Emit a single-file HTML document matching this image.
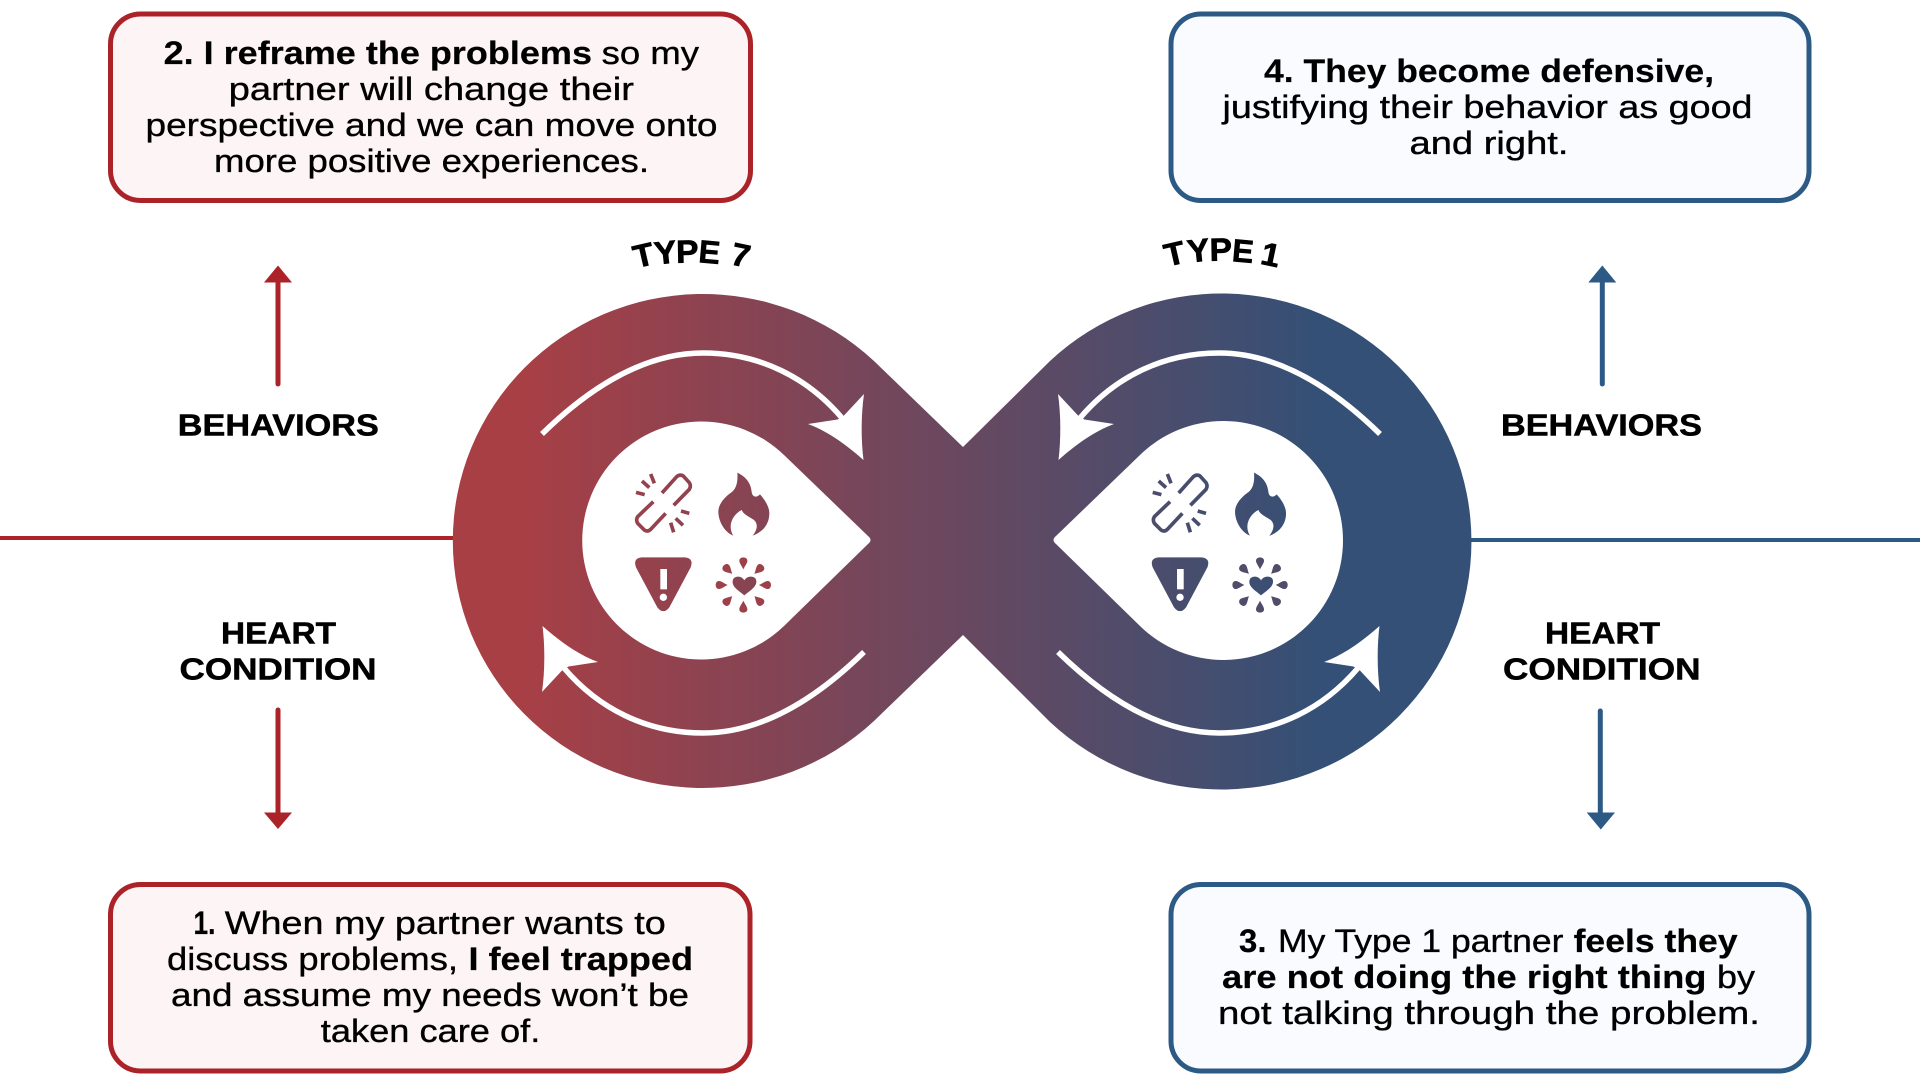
<!DOCTYPE html>
<html lang="en">
<head>
<meta charset="utf-8">
<title>Type 7 and Type 1 loop</title>
<style>
html,body{margin:0;padding:0;background:#fff;width:1920px;height:1080px;overflow:hidden}
svg{display:block}
text{font-family:"Liberation Sans",Arial,sans-serif;font-size:32.5px;fill:#000;stroke:#000;stroke-width:.35px}
.b{font-weight:700;stroke-width:.2px}
.h{font-weight:700;font-size:31px;stroke-width:.5px}
.t{font-weight:700;font-size:32px;stroke-width:.7px}
</style>
</head>
<body>
<svg xmlns="http://www.w3.org/2000/svg" width="1920" height="1080" viewBox="0 0 1920 1080">
<defs>
<linearGradient id="g" gradientUnits="userSpaceOnUse" x1="520" y1="0" x2="1320" y2="0">
<stop offset="0" stop-color="#a83f45"/><stop offset="1" stop-color="#345076"/>
</linearGradient>
<linearGradient id="gl" gradientUnits="userSpaceOnUse" x1="-240" y1="0" x2="2160" y2="0">
<stop offset="0" stop-color="#a83f45"/><stop offset="1" stop-color="#345076"/>
</linearGradient>
<linearGradient id="gr" gradientUnits="userSpaceOnUse" x1="-1790" y1="0" x2="610" y2="0">
<stop offset="0" stop-color="#a83f45"/><stop offset="1" stop-color="#345076"/>
</linearGradient>
<g id="arrow">
<path d="M542,434 C585,392 640,353 703,353 C760,353 808,378 842,418" fill="none" stroke="#fff" stroke-width="5.5"/>
<path d="M863.5,460 C850,448 830,432 808,424 L837.5,419.5 L843.5,416 L864,394 C861,415 861,440 863.5,460Z" fill="#fff"/>
</g>
<g id="icons-shape">
<path d="M412,68 C440,82 452,100 455,125 C456,140 468,145 480,133 C495,150 508,170 508,190 C508,225 485,248 458,257 C472,240 475,222 462,210 C445,198 432,195 425,180 C405,190 392,210 392,230 C392,240 395,250 400,257 C375,248 355,215 355,185 C355,165 370,145 390,130 C410,118 414,95 412,68 Z"/>
<path d="M125,322 L255,322 Q282,325 272,352 L208,472 Q190,495 172,472 L108,352 Q98,325 125,322 Z"/>
<path d="M433,436 C413,420 396,410 398,393 C400,376 425,376 433,391 C441,376 468,376 469,393 C470,410 453,420 433,436 Z"/>
<g transform="translate(430 405)">
<path d="M0,-47 C-5,-58 -13,-67 -12,-74 A12,9 0 0 1 12,-74 C13,-67 5,-58 0,-47Z"/>
<path transform="rotate(45)" d="M0,-47 C-5,-58 -13,-67 -12,-74 A12,9 0 0 1 12,-74 C13,-67 5,-58 0,-47Z"/>
<path transform="rotate(90)" d="M0,-47 C-5,-58 -13,-67 -12,-74 A12,9 0 0 1 12,-74 C13,-67 5,-58 0,-47Z"/>
<path transform="rotate(135)" d="M0,-47 C-5,-58 -13,-67 -12,-74 A12,9 0 0 1 12,-74 C13,-67 5,-58 0,-47Z"/>
<path transform="rotate(180)" d="M0,-47 C-5,-58 -13,-67 -12,-74 A12,9 0 0 1 12,-74 C13,-67 5,-58 0,-47Z"/>
<path transform="rotate(225)" d="M0,-47 C-5,-58 -13,-67 -12,-74 A12,9 0 0 1 12,-74 C13,-67 5,-58 0,-47Z"/>
<path transform="rotate(270)" d="M0,-47 C-5,-58 -13,-67 -12,-74 A12,9 0 0 1 12,-74 C13,-67 5,-58 0,-47Z"/>
<path transform="rotate(315)" d="M0,-47 C-5,-58 -13,-67 -12,-74 A12,9 0 0 1 12,-74 C13,-67 5,-58 0,-47Z"/>
</g>
<rect x="181" y="357" width="20" height="61" fill="#fff"/>
<circle cx="190" cy="442" r="11" fill="#fff"/>
</g>
</defs>

<!-- axis lines -->
<rect x="0" y="536" width="456" height="4" fill="#ab2328"/>
<rect x="1468" y="538" width="452" height="4" fill="#2c5a85"/>

<!-- infinity -->
<path d="M963,447 L1050,361 A250 248 0 1 1 1050,722 L963,635 L874,721 A250 247 0 1 1 874,361 Z" fill="url(#g)"/>
<path d="M868,536 L784,455 A119 119 0 1 0 784,626 L868,544 Q873,540 868,536Z" fill="#fff"/>
<path d="M1056,536 L1140,455 A119.5 119.5 0 1 1 1140,626 L1056,544 Q1051,540 1056,536Z" fill="#fff"/>

<!-- loop arrows -->
<use href="#arrow"/>
<use href="#arrow" transform="rotate(180 703 543)"/>
<use href="#arrow" transform="matrix(-1 0 0 1 1922 0)"/>
<use href="#arrow" transform="matrix(-1 0 0 1 1922 0) rotate(180 703 543)"/>

<!-- icons -->
<g transform="translate(600 450) scale(.33333)" fill="url(#gl)">
<g fill="none" stroke="url(#gl)" stroke-width="11">
<path d="M186,129 L230,80 Q240,72 250,78 L268,98 Q274,108 268,118 L221,166 M160,155 L113,200 Q107,210 113,220 L133,240 Q143,247 152,238 L197,190"/>
<path d="M108,127 L134,134 M126,93 L148,113 M152,72 L163,100 M243,183 L268,190 M227,205 L249,226 M212,218 L221,247"/>
</g>
<use href="#icons-shape"/>
</g>
<g transform="translate(1116.7 450) scale(.33333)" fill="url(#gr)">
<g fill="none" stroke="url(#gr)" stroke-width="11">
<path d="M186,129 L230,80 Q240,72 250,78 L268,98 Q274,108 268,118 L221,166 M160,155 L113,200 Q107,210 113,220 L133,240 Q143,247 152,238 L197,190"/>
<path d="M108,127 L134,134 M126,93 L148,113 M152,72 L163,100 M243,183 L268,190 M227,205 L249,226 M212,218 L221,247"/>
</g>
<use href="#icons-shape"/>
</g>

<!-- TYPE labels -->
<g text-anchor="middle">
<text class="t" transform="translate(646 266) rotate(-13) scale(1.05 1)">T</text>
<text class="t" transform="translate(666.5 263.5) rotate(-6) scale(1.05 1)">Y</text>
<text class="t" transform="translate(687.5 262.5) rotate(-1) scale(1.05 1)">P</text>
<text class="t" transform="translate(708.5 263) rotate(5) scale(1 1)">E</text>
<text class="t" transform="translate(738.5 266) rotate(12) scale(1.05 1)">7</text>
<text class="t" transform="translate(1177 264.5) rotate(-13) scale(1.05 1)">T</text>
<text class="t" transform="translate(1199.5 261.5) rotate(-6) scale(1.05 1)">Y</text>
<text class="t" transform="translate(1221 260.5) rotate(-1) scale(1.05 1)">P</text>
<text class="t" transform="translate(1242 262) rotate(5) scale(1 1)">E</text>
<text class="t" transform="translate(1268.5 265.5) rotate(12) scale(1.05 1)">1</text>
</g>

<!-- boxes -->
<rect x="110.5" y="14" width="640" height="186.5" rx="30" fill="#fdf4f5" stroke="#ab2328" stroke-width="5"/>
<rect x="110.5" y="884.5" width="639.5" height="186.5" rx="30" fill="#fdf4f5" stroke="#ab2328" stroke-width="5"/>
<rect x="1171" y="14" width="638" height="186.5" rx="30" fill="#fafbff" stroke="#2c5a85" stroke-width="5"/>
<rect x="1171" y="884.5" width="638" height="186.5" rx="30" fill="#fafbff" stroke="#2c5a85" stroke-width="5"/>

<!-- box 2 -->
<text class="b" x="163.6" y="64" textLength="428.4" lengthAdjust="spacingAndGlyphs">2. I reframe the problems</text>
<text x="601.7" y="64" textLength="97.3" lengthAdjust="spacingAndGlyphs">so my</text>
<text x="228.6" y="100" textLength="405.4" lengthAdjust="spacingAndGlyphs">partner will change their</text>
<text x="145.5" y="136" textLength="572" lengthAdjust="spacingAndGlyphs">perspective and we can move onto</text>
<text x="214" y="172" textLength="435" lengthAdjust="spacingAndGlyphs">more positive experiences.</text>

<!-- box 1 -->
<text class="b" x="193.5" y="934" textLength="22" lengthAdjust="spacingAndGlyphs">1.</text>
<text x="224.8" y="934" textLength="441" lengthAdjust="spacingAndGlyphs">When my partner wants to</text>
<text x="167" y="970" textLength="291" lengthAdjust="spacingAndGlyphs">discuss problems,</text>
<text class="b" x="468.5" y="970" textLength="224.5" lengthAdjust="spacingAndGlyphs">I feel trapped</text>
<text x="171" y="1006" textLength="518" lengthAdjust="spacingAndGlyphs">and assume my needs won’t be</text>
<text x="320.8" y="1042" textLength="219.5" lengthAdjust="spacingAndGlyphs">taken care of.</text>

<!-- box 4 -->
<text class="b" x="1264" y="82" textLength="450" lengthAdjust="spacingAndGlyphs">4. They become defensive,</text>
<text x="1222.5" y="118" textLength="530" lengthAdjust="spacingAndGlyphs">justifying their behavior as good</text>
<text x="1409.5" y="154" textLength="159" lengthAdjust="spacingAndGlyphs">and right.</text>

<!-- box 3 -->
<text class="b" x="1239" y="952" textLength="27.5" lengthAdjust="spacingAndGlyphs">3.</text>
<text x="1278" y="952" textLength="285.5" lengthAdjust="spacingAndGlyphs">My Type 1 partner</text>
<text class="b" x="1573.6" y="952" textLength="164" lengthAdjust="spacingAndGlyphs">feels they</text>
<text class="b" x="1222" y="988" textLength="484.5" lengthAdjust="spacingAndGlyphs">are not doing the right thing</text>
<text x="1717" y="988" textLength="38" lengthAdjust="spacingAndGlyphs">by</text>
<text x="1218" y="1024" textLength="542" lengthAdjust="spacingAndGlyphs">not talking through the problem.</text>

<!-- side labels -->
<text class="h" x="177.8" y="435.5" textLength="201" lengthAdjust="spacingAndGlyphs">BEHAVIORS</text>
<text class="h" x="221" y="643.5" textLength="115" lengthAdjust="spacingAndGlyphs">HEART</text>
<text class="h" x="179.5" y="679.5" textLength="197" lengthAdjust="spacingAndGlyphs">CONDITION</text>
<text class="h" x="1501" y="435.5" textLength="201" lengthAdjust="spacingAndGlyphs">BEHAVIORS</text>
<text class="h" x="1545" y="643.5" textLength="115" lengthAdjust="spacingAndGlyphs">HEART</text>
<text class="h" x="1503" y="679.5" textLength="197.5" lengthAdjust="spacingAndGlyphs">CONDITION</text>

<!-- side arrows -->
<g fill="#ab2328" stroke="#ab2328">
<line x1="278" y1="280" x2="278" y2="384" stroke-width="5" stroke-linecap="round"/>
<path d="M278,265.5 L292,282.5 L264,282.5Z" stroke="none"/>
<line x1="278" y1="710" x2="278" y2="815" stroke-width="5" stroke-linecap="round"/>
<path d="M278,829 L292,812.5 L264,812.5Z" stroke="none"/>
</g>
<g fill="#2c5a85" stroke="#2c5a85">
<line x1="1602.3" y1="280" x2="1602.3" y2="384" stroke-width="5" stroke-linecap="round"/>
<path d="M1602.3,265.5 L1616.3,282.5 L1588.3,282.5Z" stroke="none"/>
<line x1="1600.3" y1="711" x2="1600.3" y2="815" stroke-width="5" stroke-linecap="round"/>
<path d="M1600.8,829.5 L1615,812.5 L1586.7,812.5Z" stroke="none"/>
</g>
</svg>
</body>
</html>
